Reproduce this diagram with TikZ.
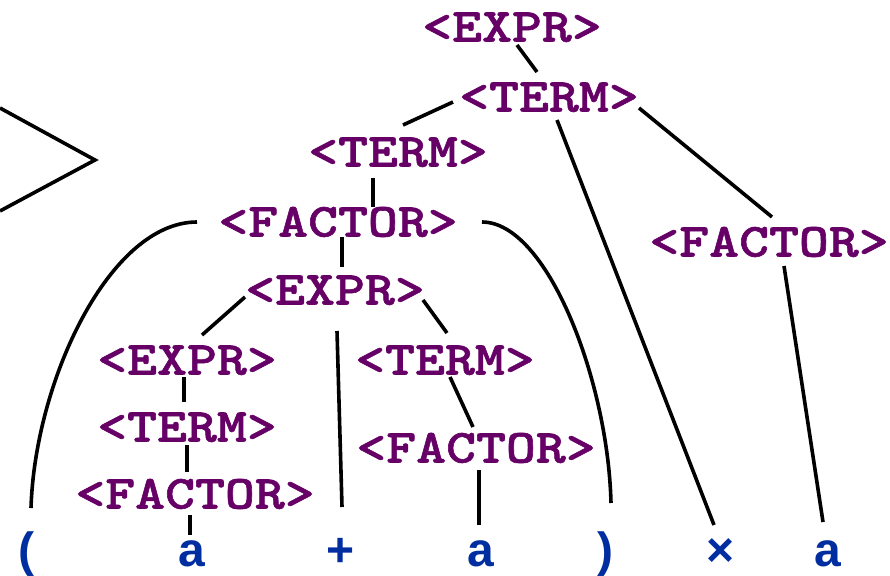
\documentclass[tikz,border=0pt]{standalone}
\usepackage{fontspec}
\setmonofont{Liberation Mono}
\setsansfont{Liberation Sans}
\newfontfamily\ntfont{lmmonolt10-bold.otf}[FakeStretch=1.2, FakeBold=1.2]
\usetikzlibrary{calc}
\definecolor{ntpurple}{RGB}{102,0,102}
\definecolor{tblue}{RGB}{0,45,160}
\begin{document}
\begin{tikzpicture}[x=1pt,y=-1pt,
  nt/.style={font=\fontsize{47.5}{48}\selectfont\ntfont, text=ntpurple,
             inner sep=0pt, text height=29pt, text depth=0pt},
  tm/.style={font=\fontsize{48}{48}\selectfont\sffamily\bfseries, text=tblue,
             inner sep=0pt, text height=30pt, text depth=0pt},
  edge/.style={line width=3.6pt, line cap=butt}]
\useasboundingbox (0,0) rectangle (890,575);

% nonterminals
\node[nt] (e1) at (512,27)  {<EXPR>};
\node[nt] (t2) at (549,97)  {<TERM>};
\node[nt] (t1) at (398,152) {<TERM>};
\node[nt] (f1) at (338,222) {<FACTOR>};
\node[nt] (f2) at (769,242) {<FACTOR>};
\node[nt] (e2) at (335,290) {<EXPR>};
\node[nt] (e3) at (187,360) {<EXPR>};
\node[nt] (t3) at (187,427) {<TERM>};
\node[nt] (f3) at (195,494) {<FACTOR>};
\node[nt] (t4) at (445,360) {<TERM>};
\node[nt] (f4) at (476,448) {<FACTOR>};

% terminals
\node[tm] (lp)    at (26,551)  {(};
\node[tm] (a1)    at (192,551) {a};
\node[tm] (plus)  at (341,551) {+};
\node[tm] (a2)    at (481,551) {a};
\node[tm] (rp)    at (605,551) {)};
\node[tm] (times) at (721,551) {×};
\node[tm] (a3)    at (828,551) {a};

% partial shape at the left edge
\draw[line width=3.6pt, line join=miter] (0,108) -- (95,160) -- (0,211);

% connectors
\draw[edge] ($(e1)+(5,18)$)    -- ($(t2)+(-12,-25)$);
\draw[edge] ($(t2)+(-96,5)$)   -- ($(t1)+(5,-27)$);
\draw[edge] ($(t2)+(8,23)$)    -- ($(times)+(-7,-26)$);
\draw[edge] ($(t2)+(90,11)$)   -- ($(f2)+(3,-25)$);
\draw[edge] ($(f2)+(15,24)$)   -- ($(a3)+(-5,-29)$);
\draw[edge] ($(t1)+(-25,26)$)  -- ($(f1)+(35,-15)$);
\draw[edge] ($(f1)+(4,15)$)    -- ($(e2)+(7,-23)$);
\draw[edge] ($(f1)+(-141,0)$) .. controls +(-87,0) and +(4,-128) .. ($(lp)+(5,-43)$);
\draw[edge] ($(f1)+(144,0)$) .. controls +(65,0) and +(-3,-123) .. ($(rp)+(6,-48)$);
\draw[edge] ($(e2)+(-90,7)$)   -- ($(e3)+(15,-25)$);
\draw[edge] ($(e2)+(2,41)$)    -- ($(plus)+(1,-44)$);
\draw[edge] ($(e2)+(88,10)$)   -- ($(t4)+(2,-27)$);
\draw[edge] ($(e3)+(-3,17)$)   -- ($(t3)+(-3,-25)$);
\draw[edge] ($(t3)+(0,18)$)    -- ($(f3)+(-8,-22)$);
\draw[edge] ($(f3)+(-5,21)$)   -- ($(a1)+(-2,-16)$);
\draw[edge] ($(t4)+(5,17)$)    -- ($(f4)+(-3,-21)$);
\draw[edge] ($(f4)+(3,22)$)    -- ($(a2)+(-2,-26)$);
\end{tikzpicture}
\end{document}
